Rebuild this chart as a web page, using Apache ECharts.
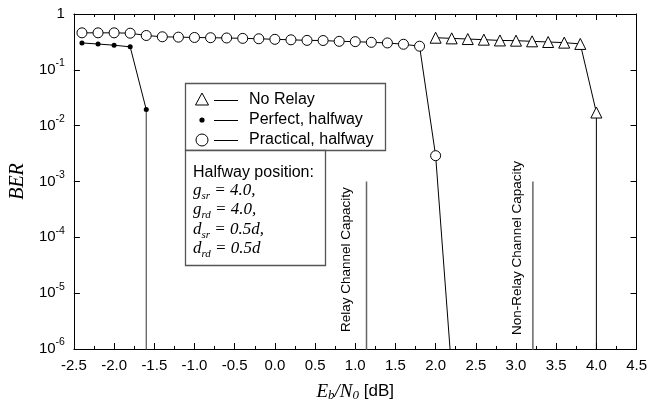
<!DOCTYPE html>
<html>
<head>
<meta charset="utf-8">
<script src="https://cdn.jsdelivr.net/npm/echarts@6/dist/echarts.min.js"></script>
<style>html,body{margin:0;padding:0;background:#fff}#c{width:650px;height:407px}</style>
</head>
<body>
<div id="c"></div>
<script>
// ---- data ----
const xTickLabels = ['-2.5','-2.0','-1.5','-1.0','-0.5','0.0','0.5','1.0','1.5','2.0','2.5','3.0','3.5','4.0','4.5'];
const yTickExponents = [0,-1,-2,-3,-4,-5,-6];

const noRelayX = [2.0,2.2,2.4,2.6,2.8,3.0,3.2,3.4,3.6,3.8,4.0];
const noRelayY = [0.376,0.366,0.356,0.347,0.336,0.333,0.324,0.315,0.307,0.291,0.0172];

const perfectX = [-2.4,-2.2,-2.0,-1.8,-1.6];
const perfectY = [0.303,0.29,0.276,0.258,0.0194];

const practicalX = [-2.4,-2.2,-2.0,-1.8,-1.6,-1.4,-1.2,-1.0,-0.8,-0.6,-0.4,-0.2,0.0,0.2,0.4,0.6,0.8,1.0,1.2,1.4,1.6,1.8,2.0];
const practicalY = [0.46,0.46,0.46,0.453,0.412,0.391,0.385,0.38,0.376,0.372,0.366,0.36,0.352,0.345,0.337,0.335,0.324,0.32,0.311,0.303,0.287,0.265,0.0029];

// curve continuation below the plotted range (clipped at the axis)
const practicalTail = [2.2, 4e-7];
const floorValue = 1e-9;

const relayCapacityX = 1.14;
const nonRelayCapacityX = 3.21;
const capacityTop = 1e-3;

const legendNames = ['No Relay','Perfect, halfway','Practical, halfway'];

// ---- build ----
const SANS = '"Liberation Sans", Arial, Helvetica, sans-serif';
const SERIF = '"Liberation Serif", "Times New Roman", serif';

function pairs(xs, ys){ return xs.map((x,i)=>[x, ys[i]]); }
function last(a){ return a[a.length-1]; }

const noRelayData = pairs(noRelayX, noRelayY);
noRelayData.push({value:[last(noRelayX), floorValue], symbol:'none'});
const perfectData = pairs(perfectX, perfectY);
const perfectDrop = [[last(perfectX), last(perfectY)], [last(perfectX), floorValue]];
const practicalData = pairs(practicalX, practicalY);
practicalData.push({value:practicalTail, symbol:'none'});

const chart = echarts.init(document.getElementById('c'), null, {renderer:'canvas'});

const axisLineStyle = {color:'#000', width:1};
const xCommon = {
  type:'value', min:-2.5, max:4.5, interval:0.5,
  axisLine:{show:true, onZero:false, lineStyle:axisLineStyle},
  axisTick:{show:true, inside:true, length:6, lineStyle:axisLineStyle},
  minorTick:{show:true, splitNumber:2, length:3, lineStyle:axisLineStyle},
  splitLine:{show:false}, minorSplitLine:{show:false}
};
const yCommon = {
  type:'log', logBase:10, min:1e-6, max:1,
  axisLine:{show:true, onZero:false, lineStyle:axisLineStyle},
  axisTick:{show:true, inside:true, length:6, lineStyle:axisLineStyle},
  splitLine:{show:false}
};

const option = {
  animation:false,
  backgroundColor:'#fff',
  grid:{left:67, right:12, top:14, bottom:50, containLabel:false},
  xAxis:[
    Object.assign({}, xCommon, {
      position:'bottom',
      axisLabel:{show:true, margin:9, color:'#000', fontFamily:SANS, fontSize:15,
        formatter:function(v){ const i = Math.round((v+2.5)/0.5); return xTickLabels[i] !== undefined ? xTickLabels[i] : ''; }},
      name:'{e|E}{s|b}{e|/N}{s|0}{t| [dB]}',
      nameLocation:'middle', nameGap:33,
      nameTextStyle:{color:'#000', rich:{
        e:{fontFamily:SERIF, fontStyle:'italic', fontSize:19, color:'#000', verticalAlign:'top'},
        s:{fontFamily:SERIF, fontStyle:'italic', fontSize:13, color:'#000', verticalAlign:'bottom', padding:[7,0,0,0]},
        t:{fontFamily:SANS, fontSize:17, color:'#000', verticalAlign:'top', padding:[1,0,0,0]}
      }}
    }),
    Object.assign({}, xCommon, {position:'top', axisLabel:{show:false}})
  ],
  yAxis:[
    Object.assign({}, yCommon, {
      position:'left',
      axisLabel:{show:true, margin:9, color:'#000',
        formatter:function(v){ const e = Math.round(Math.log10(v)); if (yTickExponents.indexOf(e) < 0) return ''; return e===0 ? '{b|1}' : '{b|10}{s|'+e+'}'; },
        rich:{
          b:{fontFamily:SANS, fontSize:15, color:'#000'},
          s:{fontFamily:SANS, fontSize:10.5, color:'#000', padding:[0,0,13,0]}
        }},
      name:'BER', nameLocation:'middle', nameGap:42, nameRotate:90,
      nameTextStyle:{fontFamily:SERIF, fontStyle:'italic', fontSize:20, color:'#000'}
    }),
    Object.assign({}, yCommon, {position:'right', axisLabel:{show:false}})
  ],
  series:[
    {name:legendNames[0], type:'line', xAxisIndex:0, yAxisIndex:0, data:noRelayData,
      symbol:'triangle', symbolSize:11, showAllSymbol:true,
      lineStyle:{color:'#000', width:1}, itemStyle:{color:'#fff', borderColor:'#000', borderWidth:1}, z:3},
    {name:legendNames[1], type:'line', xAxisIndex:0, yAxisIndex:0, data:perfectData,
      symbol:'circle', symbolSize:5, showAllSymbol:true,
      lineStyle:{color:'#000', width:1}, itemStyle:{color:'#000', borderColor:'#000', borderWidth:0}, z:4},
    {name:'perfectDrop', type:'line', xAxisIndex:0, yAxisIndex:0, data:perfectDrop, silent:true,
      symbol:'none', lineStyle:{color:'#555', width:1.2}, z:2},
    {name:legendNames[2], type:'line', xAxisIndex:0, yAxisIndex:0, data:practicalData,
      symbol:'circle', symbolSize:10, showAllSymbol:true,
      lineStyle:{color:'#000', width:1}, itemStyle:{color:'#fff', borderColor:'#000', borderWidth:1}, z:3},
    {name:'relayCap', type:'line', xAxisIndex:0, yAxisIndex:0, silent:true,
      data:[[relayCapacityX, capacityTop],[relayCapacityX, floorValue]], symbol:'none',
      lineStyle:{color:'#666', width:1.5}, z:2},
    {name:'nonRelayCap', type:'line', xAxisIndex:0, yAxisIndex:0, silent:true,
      data:[[nonRelayCapacityX, capacityTop],[nonRelayCapacityX, floorValue]], symbol:'none',
      lineStyle:{color:'#666', width:1.5}, z:2}
  ]
};
chart.setOption(option);

// ---- annotations (legend box, parameter box, capacity labels) ----
const relayPx = chart.convertToPixel({gridIndex:0}, [relayCapacityX, 1e-6]);
const nonRelayPx = chart.convertToPixel({gridIndex:0}, [nonRelayCapacityX, 1e-6]);

const lgX = 185, lgY = 83, lgW = 200, lgH = 67;
const rowY = [100, 120, 140];
const symX = 202, lnX1 = 214, lnX2 = 238, txX = 249;

const graphics = [
  {type:'rect', shape:{x:lgX+0.5, y:lgY+0.5, width:lgW, height:lgH}, style:{fill:'#fff', stroke:'#555', lineWidth:1.3}, z:10},
  {type:'polygon', shape:{points:[[symX, rowY[0]-7],[symX-6.5, rowY[0]+5],[symX+6.5, rowY[0]+5]]}, style:{fill:'#fff', stroke:'#000', lineWidth:1}, z:11},
  {type:'circle', shape:{cx:symX, cy:rowY[1], r:2.6}, style:{fill:'#000'}, z:11},
  {type:'circle', shape:{cx:symX, cy:rowY[2], r:6}, style:{fill:'#fff', stroke:'#000', lineWidth:1}, z:11}
];
rowY.forEach(function(y, i){
  graphics.push({type:'line', shape:{x1:lnX1, y1:y+0.5, x2:lnX2, y2:y+0.5}, style:{stroke:'#000', lineWidth:1}, z:11});
  graphics.push({type:'text', x:txX, y:y, style:{text:legendNames[i], fontFamily:SANS, fontSize:16, fill:'#000', verticalAlign:'middle', align:'left'}, z:11});
});

// parameter box
const pbX = 185, pbY = 150, pbW = 140, pbH = 115;
graphics.push({type:'rect', shape:{x:pbX+0.5, y:pbY+0.5, width:pbW, height:pbH}, style:{fill:'#fff', stroke:'#555', lineWidth:1.3}, z:10});
graphics.push({type:'text', x:193, y:173, style:{text:'Halfway position:', fontFamily:SANS, fontSize:16, fill:'#000', verticalAlign:'middle', align:'left'}, z:11});
const paramRich = {
  i:{fontFamily:SERIF, fontStyle:'italic', fontSize:17, fill:'#000', verticalAlign:'top'},
  s:{fontFamily:SERIF, fontStyle:'italic', fontSize:11, fill:'#000', verticalAlign:'bottom', padding:[9,0,0,0]}
};
const paramLines = [
  ['g','sr',' = 4.0,'],
  ['g','rd',' = 4.0,'],
  ['d','sr',' = 0.5d,'],
  ['d','rd',' = 0.5d']
];
const paramY = [192, 211, 231, 250];
paramLines.forEach(function(p, i){
  graphics.push({type:'text', x:193, y:paramY[i], style:{text:'{i|'+p[0]+'}{s|'+p[1]+'}{i|'+p[2]+'}', rich:paramRich, verticalAlign:'middle', align:'left'}, z:11});
});

// capacity labels
graphics.push({type:'text', x:relayPx[0]-20, y:relayPx[1]-17, rotation:Math.PI/2,
  style:{text:'Relay Channel Capacity', fontFamily:SANS, fontSize:13.5, fill:'#000', align:'left', verticalAlign:'middle'}, z:5});
graphics.push({type:'text', x:nonRelayPx[0]-16, y:nonRelayPx[1]-14, rotation:Math.PI/2,
  style:{text:'Non-Relay Channel Capacity', fontFamily:SANS, fontSize:13.5, fill:'#000', align:'left', verticalAlign:'middle'}, z:5});

chart.setOption({graphic:graphics});
</script>
</body>
</html>
